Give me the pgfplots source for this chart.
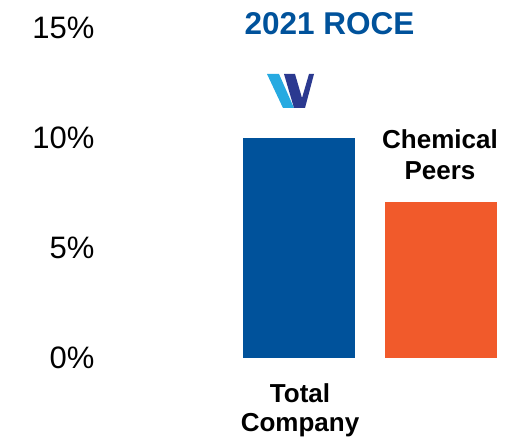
\documentclass[border=0pt]{standalone}
\usepackage{fontspec}
\setmainfont{Liberation Sans}
\usepackage{pgfplots}
\pgfplotsset{compat=1.18}
\definecolor{roceblue}{RGB}{0,82,155}
\definecolor{peerorange}{RGB}{241,90,43}
\definecolor{logolight}{RGB}{39,170,225}
\definecolor{logonavy}{RGB}{43,57,144}
\begin{document}
\begin{tikzpicture}
\useasboundingbox (0,0) rectangle (522pt,439pt);
\begin{axis}[
  at={(100pt,81pt)}, anchor=south west,
  scale only axis, width=422pt, height=330.5pt,
  xmin=100, xmax=522, ymin=0, ymax=15,
  axis line style={draw=none},
  major tick length=0pt,
  xtick=\empty,
  ytick={0,5,10,15},
  yticklabels={0\%,5\%,10\%,15\%},
  yticklabel style={font=\fontsize{31}{37}\selectfont, xshift=-2pt},
  clip=false,
  ybar, bar width=112pt, bar shift=0pt,
]
\addplot[draw=none, fill=roceblue] coordinates {(299,10.0)};
\addplot[draw=none, fill=peerorange] coordinates {(441,7.1)};
\node[anchor=base, font=\fontsize{31.5}{37}\selectfont\bfseries, text=roceblue, inner sep=0pt] at (axis cs:329.5,14.66) {2021 ROCE};
\node[anchor=base, font=\fontsize{26}{31}\selectfont\bfseries, inner sep=0pt] at (axis cs:440,9.486) {Chemical};
\node[anchor=base, font=\fontsize{26}{31}\selectfont\bfseries, inner sep=0pt] at (axis cs:440,8.079) {Peers};
\node[anchor=base, font=\fontsize{26}{31}\selectfont\bfseries, inner sep=0pt] at (axis cs:300,-1.997) {Total};
\node[anchor=base, font=\fontsize{26}{31}\selectfont\bfseries, inner sep=0pt] at (axis cs:300,-3.358) {Company};
\end{axis}
\fill[logolight] (267pt,365pt) -- (279pt,365pt) -- (294pt,331pt) -- (283pt,331pt) -- cycle;
\fill[logonavy] (284pt,365pt) -- (295pt,365pt) -- (302pt,341pt) -- (309pt,365pt) -- (314pt,365pt) -- (305pt,331pt) -- (294pt,331pt) -- cycle;
\end{tikzpicture}
\end{document}
